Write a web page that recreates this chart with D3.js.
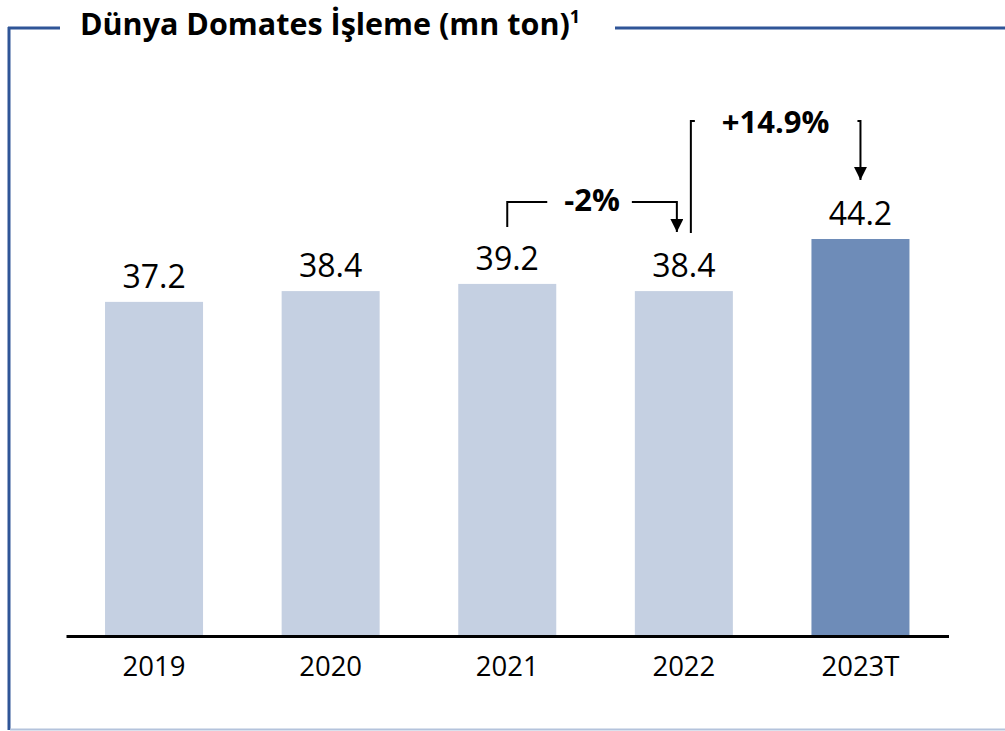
<!DOCTYPE html>
<html>
<head>
<meta charset="utf-8">
<script src="https://cdn.jsdelivr.net/npm/d3@7"></script>
<style>
  body { margin: 0; background: #fff; }
  svg { display: block; font-family: "Open Sans", sans-serif; }
</style>
</head>
<body>
<div id="chart"></div>
<script>
var years = ["2019", "2020", "2021", "2022", "2023T"];
var values = [37.2, 38.4, 39.2, 38.4, 44.2];
var barColors = ["#c5d0e2", "#c5d0e2", "#c5d0e2", "#c5d0e2", "#6e8cb8"];
var changeLabels = ["-2%", "+14.9%"];

var width = 1005, height = 731;
var margin = { top: 0, left: 66, right: 56.5, bottom: 95 };
var baseY = height - margin.bottom;   // 636

var svg = d3.select("#chart").append("svg")
  .attr("width", width)
  .attr("height", height);

// frame
svg.append("line").attr("x1", 9).attr("x2", 9).attr("y1", 27).attr("y2", 730)
  .attr("stroke", "#2f5597").attr("stroke-width", 3);
svg.append("line").attr("x1", 8).attr("x2", 60).attr("y1", 28).attr("y2", 28)
  .attr("stroke", "#2f5597").attr("stroke-width", 3);
svg.append("line").attr("x1", 615).attr("x2", 1005).attr("y1", 28).attr("y2", 28)
  .attr("stroke", "#2f5597").attr("stroke-width", 3);
svg.append("line").attr("x1", 10).attr("x2", 1005).attr("y1", 729.5).attr("y2", 729.5)
  .attr("stroke", "#b4c3dc").attr("stroke-width", 2);

// title
var title = svg.append("text")
  .attr("x", 80).attr("y", 35)
  .attr("font-weight", "bold").attr("font-size", 30.5).attr("fill", "#000");
title.append("tspan").text("Dünya Domates İşleme (mn ton)");
title.append("tspan").text("1").attr("font-size", 18).attr("dy", -12);

// scales
var x = d3.scaleBand()
  .domain(years)
  .range([margin.left, width - margin.right])
  .paddingInner(0.445)
  .paddingOuter(0.221);

var y = d3.scaleLinear()
  .domain([0, 44.2])
  .range([baseY, 239]);

svg.selectAll(".bar")
  .data(values)
  .enter().append("rect")
    .attr("class", "bar")
    .attr("x", function(d, i) { return x(years[i]); })
    .attr("width", x.bandwidth())
    .attr("y", function(d) { return y(d); })
    .attr("height", function(d) { return baseY - y(d); })
    .attr("fill", function(d, i) { return barColors[i]; });

svg.selectAll(".val")
  .data(values)
  .enter().append("text")
    .attr("class", "val")
    .attr("x", function(d, i) { return x(years[i]) + x.bandwidth() / 2; })
    .attr("y", function(d) { return y(d) - 14; })
    .attr("text-anchor", "middle")
    .attr("font-size", 32)
    .attr("fill", "#000")
    .text(function(d) { return d.toFixed(1); });

// x axis
var xAxis = d3.axisBottom(x).tickSize(0).tickPadding(20);
var gx = svg.append("g")
  .attr("transform", "translate(0," + baseY + ")")
  .call(xAxis);
gx.select(".domain").attr("stroke", "#000").attr("stroke-width", 3);
gx.selectAll(".tick text")
  .attr("font-size", 27.5)
  .attr("font-family", "Open Sans, sans-serif")
  .attr("fill", "#000");

// annotations
svg.append("defs").append("marker")
  .attr("id", "arrow")
  .attr("viewBox", "0 0 10 10")
  .attr("refX", 10).attr("refY", 5)
  .attr("markerWidth", 7).attr("markerHeight", 6.5)
  .attr("markerUnits", "strokeWidth")
  .attr("orient", "auto")
  .append("path").attr("d", "M0,0 L10,5 L0,10 Z").attr("fill", "#000");

function cx(name) { return x(name) + x.bandwidth() / 2; }

var a1 = cx("2021"), a2 = cx("2022") - 7, by = 202;
svg.append("path")
  .attr("d", "M" + a1 + "," + (by + 25) + " V" + by + " H" + (a1 + 40))
  .attr("fill", "none").attr("stroke", "#000").attr("stroke-width", 2);
svg.append("path")
  .attr("d", "M" + (a2 - 45) + "," + by + " H" + a2 + " V" + 232)
  .attr("fill", "none").attr("stroke", "#000").attr("stroke-width", 2)
  .attr("marker-end", "url(#arrow)");
svg.append("text")
  .attr("x", (a1 + a2) / 2 + 0).attr("y", 211)
  .attr("text-anchor", "middle")
  .attr("font-weight", "bold").attr("font-size", 31).attr("fill", "#000")
  .text(changeLabels[0]);

var b1 = cx("2022") + 7, b2 = cx("2023T"), ty = 121;
svg.append("path")
  .attr("d", "M" + (b1 + 4) + "," + ty + " H" + b1 + " V" + 233)
  .attr("fill", "none").attr("stroke", "#000").attr("stroke-width", 2);
svg.append("path")
  .attr("d", "M" + (b2 - 3) + "," + ty + " H" + b2 + " V" + 180)
  .attr("fill", "none").attr("stroke", "#000").attr("stroke-width", 2)
  .attr("marker-end", "url(#arrow)");
svg.append("text")
  .attr("x", (b1 + b2) / 2).attr("y", 133)
  .attr("text-anchor", "middle")
  .attr("font-weight", "bold").attr("font-size", 31).attr("fill", "#000")
  .text(changeLabels[1]);
</script>
</body>
</html>
